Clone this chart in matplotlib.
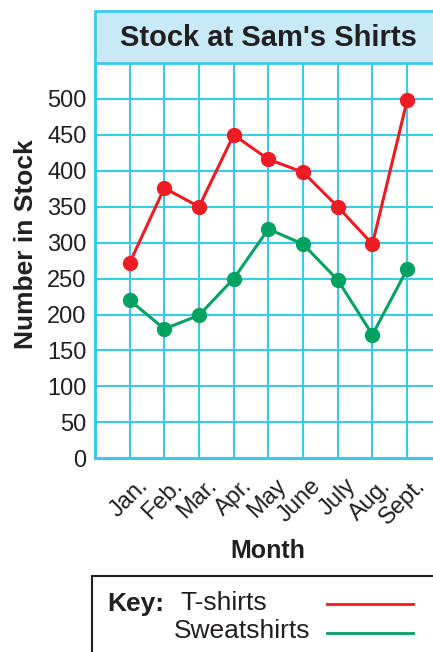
import matplotlib
matplotlib.use("Agg")
import matplotlib.pyplot as plt
from matplotlib.patches import Rectangle
from matplotlib.lines import Line2D
from matplotlib.transforms import ScaledTranslation

plt.rcParams['font.family'] = ['Liberation Sans', 'DejaVu Sans']

months = ["Jan.", "Feb.", "Mar.", "Apr.", "May", "June", "July", "Aug.", "Sept."]
tshirts = [272, 376, 350, 450, 416, 398, 350, 298, 498]
sweatshirts = [220, 180, 199, 250, 319, 298, 248, 172, 263]
y_ticks = [0, 50, 100, 150, 200, 250, 300, 350, 400, 450, 500]

RED = "#ed1c24"
GREEN = "#00a261"
GRID = "#3cc8f0"
TEXT = "#231f20"
TITLE_BG = "#c8e9f8"

W, H = 433, 652
fig = plt.figure(figsize=(W / 100, H / 100), dpi=100)

def fx(px):
    return px / W

def fy(py):
    return 1 - py / H

# plot area
left, right, top, bottom = 95, 433, 63, 458.3
ax = fig.add_axes([fx(left), fy(bottom), fx(right - left), fy(top) - fy(bottom)])
x = list(range(len(months)))
step = 34.68
ax.set_xlim(-1, -1 + (right - left) / step)
ax.set_ylim(0, 550)

ax.set_yticks(y_ticks)
ax.set_yticklabels([str(v) for v in y_ticks], fontsize=17, color=TEXT)
ax.set_xticks(x)
ax.set_xticklabels(months, fontsize=17, color=TEXT, rotation=45,
                   ha="right", va="top", rotation_mode="anchor")
ax.tick_params(axis="both", length=0, pad=6)
ax.tick_params(axis="x", pad=4)

for lbl in ax.get_xticklabels():
    lbl.set_transform(lbl.get_transform() + ScaledTranslation(7 / 100, -11 / 100, fig.dpi_scale_trans))

ax.grid(True, color=GRID, linewidth=1.5)
ax.set_axisbelow(True)
ax.axhline(550, color=GRID, linewidth=1.5, zorder=0)
for s in ["left", "bottom"]:
    ax.spines[s].set_color(GRID)
    ax.spines[s].set_linewidth(2.2)
for s in ["top", "right"]:
    ax.spines[s].set_visible(False)

ax.plot(x, tshirts, color=RED, linewidth=2.2, marker="o", markersize=10, zorder=3)
ax.plot(x, sweatshirts, color=GREEN, linewidth=2.2, marker="o", markersize=10, zorder=3)

ax.set_ylabel("Number in Stock", fontsize=19, fontweight="bold", color=TEXT)
ax.yaxis.set_label_coords((38 - left) / (right - left),
                          ((bottom - 244) / (bottom - top)))

fig.text(fx(268), fy(551), "Month", fontsize=18, fontweight="bold", color=TEXT,
         ha="center", va="center")

# title banner
fig.patches.append(Rectangle((fx(95), fy(63)), fx(345), fy(11) - fy(63),
                             transform=fig.transFigure, facecolor=TITLE_BG,
                             edgecolor=GRID, linewidth=2))
fig.text(fx(268), fy(38), "Stock at Sam's Shirts", fontsize=21, fontweight="bold",
         color=TEXT, ha="center", va="center")

# key box
fig.patches.append(Rectangle((fx(92), fy(660)), fx(350), fy(576) - fy(660),
                             transform=fig.transFigure, facecolor="white",
                             edgecolor=TEXT, linewidth=1.5))
fig.text(fx(107), fy(604), "Key:", fontsize=19, fontweight="bold", color=TEXT,
         ha="left", va="center")
fig.text(fx(180), fy(603), "T-shirts", fontsize=19, color=TEXT, ha="left", va="center")
fig.text(fx(174), fy(631), "Sweatshirts", fontsize=19, color=TEXT, ha="left", va="center")
fig.lines.append(Line2D([fx(327), fx(413)], [fy(604), fy(604)], transform=fig.transFigure,
                        color=RED, linewidth=2))
fig.lines.append(Line2D([fx(327), fx(413)], [fy(633), fy(633)], transform=fig.transFigure,
                        color=GREEN, linewidth=2))

fig.savefig("out.png", dpi=100, facecolor="white")
